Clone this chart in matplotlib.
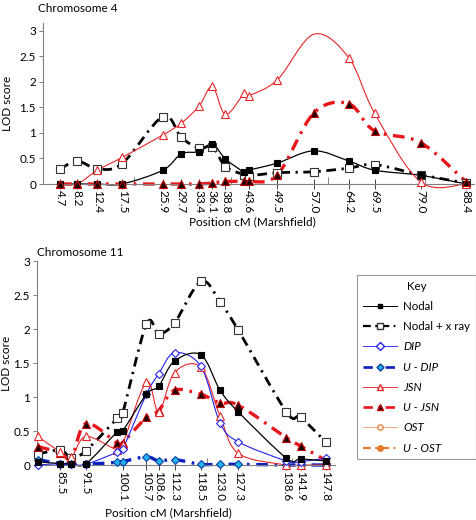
import numpy as np
import matplotlib
matplotlib.use("Agg")
import matplotlib.pyplot as plt
from matplotlib.path import Path
from matplotlib.patches import PathPatch
from matplotlib.lines import Line2D

plt.rcParams['font.family'] = ['Lato', 'DejaVu Sans']

# ---- chromosome 4 ----
pos4 = [4.7, 8.2, 12.4, 17.5, 25.9, 29.7, 33.4, 36.1, 38.8, 42.7, 43.6, 49.5, 57.0, 64.2, 69.5, 79.0, 88.4]
nodal4 = [0, 0, 0, 0, 0.27, 0.59, 0.63, 0.78, 0.49, 0.23, 0.27, 0.41, 0.65, 0.45, 0.27, 0.17, 0.0]
xray4 = [0.29, 0.45, 0.30, 0.40, 1.32, 0.91, 0.70, 0.73, 0.34, 0.18, 0.16, 0.22, 0.24, 0.31, 0.38, 0.18, 0.02]
jsn4 = [0, 0, 0.27, 0.52, 0.96, 1.19, 1.53, 1.91, 1.36, 1.78, 1.73, 2.04, 2.93, 2.47, 1.39, 0.04, 0.0]
ujsn4 = [0, 0, 0, 0, 0, 0, 0, 0.02, 0.05, 0.05, 0.05, 0.18, 1.39, 1.57, 1.04, 0.81, 0.04]
ticks4 = [4.7, 8.2, 12.4, 17.5, 25.9, 29.7, 33.4, 36.1, 38.8, 43.6, 49.5, 57.0, 64.2, 69.5, 79.0, 88.4]
labels4 = ['4.7', '8.2', '12.4', '17.5', '25.9', '29.7', '33.4', '36.1', '38.8', '43.6',
           '49.5', '57.0', '64.2', '69.5', '79.0', '88.4']

# ---- chromosome 11 ----
pos11 = [80.2, 85.5, 88.1, 91.5, 98.9, 100.1, 105.7, 108.6, 112.3, 118.5, 123.0, 127.3, 138.6, 141.9, 147.8]
nodal11 = [0.05, 0.02, 0.02, 0.02, 0.49, 0.50, 1.04, 1.16, 1.53, 1.62, 1.10, 0.78, 0.10, 0.09, 0.06]
xray11 = [0.16, 0.22, 0.10, 0.21, 0.69, 0.76, 2.07, 1.93, 2.09, 2.70, 2.40, 1.98, 0.78, 0.70, 0.34]
dip11 = [0.0, 0.02, 0.01, 0.01, 0.19, 0.23, 1.04, 1.34, 1.65, 1.45, 0.62, 0.34, 0.06, 0.05, 0.10]
udip11 = [0.08, 0.02, 0.01, 0.01, 0.04, 0.05, 0.12, 0.06, 0.08, 0.01, 0.01, 0.01, 0.0, 0.0, 0.0]
jsn11 = [0.42, 0.19, 0.12, 0.42, 0.22, 0.30, 1.22, 0.78, 1.36, 1.44, 0.72, 0.17, 0.0, 0.0, 0.0]
ujsn11 = [0.27, 0.18, 0.10, 0.61, 0.32, 0.33, 0.70, 0.80, 1.10, 1.04, 0.91, 0.88, 0.40, 0.28, 0.07]
ticks11 = [85.5, 91.5, 100.1, 105.7, 108.6, 112.3, 118.5, 123.0, 127.3, 138.6, 141.9, 147.8]
labels11 = ['85.5', '91.5', '100.1', '105.7', '108.6', '112.3', '118.5', '123.0', '127.3',
            '138.6', '141.9', '147.8']

yticks = [0, 0.5, 1, 1.5, 2, 2.5, 3]
ylabels = ['0', '0.5', '1', '1.5', '2', '2.5', '3']

# styles
S = {
    'Nodal': dict(color='black', lw=0.9, ls='-', marker='s', mfc='black', mec='black', ms=4.2),
    'Nodal + x ray': dict(color='black', lw=2.0, ls=(0, (3.5, 2, 0.8, 2)), marker='s', mfc='white', mec='#333333', ms=5.2),
    'DIP': dict(color='#2222ee', lw=0.8, ls='-', marker='D', mfc='white', mec='#2222ee', ms=4.5),
    'U-DIP': dict(color='#0a1fbf', lw=2.4, ls=(0, (3.5, 2, 0.8, 2)), marker='D', mfc='#22b4ee', mec='#0a3fa0', ms=4.2),
    'JSN': dict(color='#e8262a', lw=0.8, ls='-', marker='^', mfc='white', mec='#e8262a', ms=5.8),
    'U-JSN': dict(color='#e8161b', lw=2.4, ls=(0, (3.5, 2, 0.8, 2)), marker='^', mfc='#1a0000', mec='#c00000', ms=5.2),
    'OST': dict(color='#f4a070', lw=0.8, ls='-', marker='o', mfc='white', mec='#f08040', ms=4.5),
    'U-OST': dict(color='#e87a30', lw=2.0, ls=(0, (3.5, 2, 0.8, 2)), marker='o', mfc='#f08030', mec='#e07020', ms=4.5),
}


def smooth_path(x, y):
    # excel style smoothed line: cubic bezier between the data points
    pts = np.column_stack([x, y]).astype(float)
    n = len(pts)
    verts = [pts[0]]
    codes = [Path.MOVETO]
    for i in range(n - 1):
        p0 = pts[i - 1] if i > 0 else pts[i]
        p1 = pts[i]
        p2 = pts[i + 1]
        p3 = pts[i + 2] if i + 2 < n else pts[i + 1]
        verts += [p1 + (p2 - p0) / 6, p2 - (p3 - p1) / 6, p2]
        codes += [Path.CURVE4] * 3
    return Path(verts, codes)


def draw(ax, x, y, name, skip=()):
    st = S[name]
    ax.add_patch(PathPatch(smooth_path(x, y), fill=False, edgecolor=st['color'], lw=st['lw'],
                           linestyle=st['ls'], clip_on=False, zorder=2))
    idx = [i for i in range(len(x)) if i not in skip]
    ax.plot([x[i] for i in idx], [y[i] for i in idx], ls='none', marker=st['marker'],
            mfc=st['mfc'], mec=st['mec'], ms=st['ms'], mew=0.8, clip_on=False, zorder=3)


def style_axes(ax, xlim, ylim, ticks, labels, minor):
    ax.set_xlim(*xlim)
    ax.set_ylim(*ylim)
    for s in ['top', 'right']:
        ax.spines[s].set_visible(False)
    for s in ['left', 'bottom']:
        ax.spines[s].set_color('#808080')
        ax.spines[s].set_linewidth(0.8)
    ax.set_xticks(ticks)
    ax.set_xticklabels(labels, rotation=270, fontsize=8.5)
    ax.set_xticks(minor, minor=True)
    ax.tick_params(axis='x', which='major', direction='inout', length=7, width=0.7, color='#444444', pad=1)
    ax.tick_params(axis='x', which='minor', direction='in', length=5, width=0.7, color='#808080')
    ax.set_yticks(yticks)
    ax.set_yticklabels(ylabels, fontsize=8.5)
    ax.tick_params(axis='y', direction='out', length=3, width=0.7, color='#808080', pad=2)
    ax.set_ylabel('LOD score', fontsize=8.5)
    ax.set_xlabel('Position cM (Marshfield)', fontsize=8.5)


fig = plt.figure(figsize=(4.76, 5.2), dpi=100)

ax1 = fig.add_axes([43 / 476, 1 - 184 / 520, 431 / 476, 161 / 520])
style_axes(ax1, (1.2, 90), (0, 3.15), ticks4, labels4, [20, 40, 60, 80])
draw(ax1, pos4, xray4, 'Nodal + x ray')
draw(ax1, pos4, nodal4, 'Nodal')
draw(ax1, pos4, jsn4, 'JSN', skip=(12,))
draw(ax1, pos4, ujsn4, 'U-JSN')
ax1.yaxis.set_label_coords(-0.07, 0.5)
ax1.xaxis.set_label_coords(0.485, -0.2)
ax1.xaxis.label.set_verticalalignment('center')
ax1.xaxis.set_label_coords(0.485, -0.236)
fig.text(38 / 476, 1 - 9 / 520, 'Chromosome 4', fontsize=8.5, va='center', ha='left')

ax2 = fig.add_axes([37 / 476, 1 - 465 / 520, 298 / 476, 204 / 520])
style_axes(ax2, (80, 150), (0, 3), ticks11, labels11, [100, 120, 140])
draw(ax2, pos11, xray11, 'Nodal + x ray')
draw(ax2, pos11, udip11, 'U-DIP')
draw(ax2, pos11, ujsn11, 'U-JSN')
draw(ax2, pos11, jsn11, 'JSN')
draw(ax2, pos11, dip11, 'DIP')
draw(ax2, pos11, nodal11, 'Nodal')
ax2.yaxis.set_label_coords(-0.085, 0.5)
ax2.xaxis.label.set_verticalalignment('center')
ax2.xaxis.set_label_coords(0.44, -0.235)
fig.text(37 / 476, 1 - 253 / 520, 'Chromosome 11', fontsize=8.5, va='center', ha='left')

handles = []
names = ['Nodal', 'Nodal + x ray', 'DIP', 'U-DIP', 'JSN', 'U-JSN', 'OST', 'U-OST']
for nm in names:
    st = S[nm]
    handles.append(Line2D([], [], color=st['color'], lw=st['lw'] * 0.8, ls=st['ls'], marker=st['marker'],
                          mfc=st['mfc'], mec=st['mec'], ms=st['ms'] * 0.85))
leg = fig.legend(handles, ['Nodal', 'Nodal + x ray', 'DIP', 'U - DIP', 'JSN', 'U - JSN', 'OST', 'U - OST'],
                 loc='upper left', bbox_to_anchor=(357 / 476, 1 - 275 / 520), bbox_transform=fig.transFigure,
                 fontsize=8.3, title='Key', title_fontsize=8.3, frameon=True, fancybox=False,
                 edgecolor='#808080', handlelength=3.0, labelspacing=0.8, borderpad=0.5,
                 handletextpad=0.5, borderaxespad=0)
leg.get_frame().set_linewidth(0.8)
for t in leg.get_texts()[2:]:
    t.set_style('italic')

fig.savefig('out.png', dpi=100)
